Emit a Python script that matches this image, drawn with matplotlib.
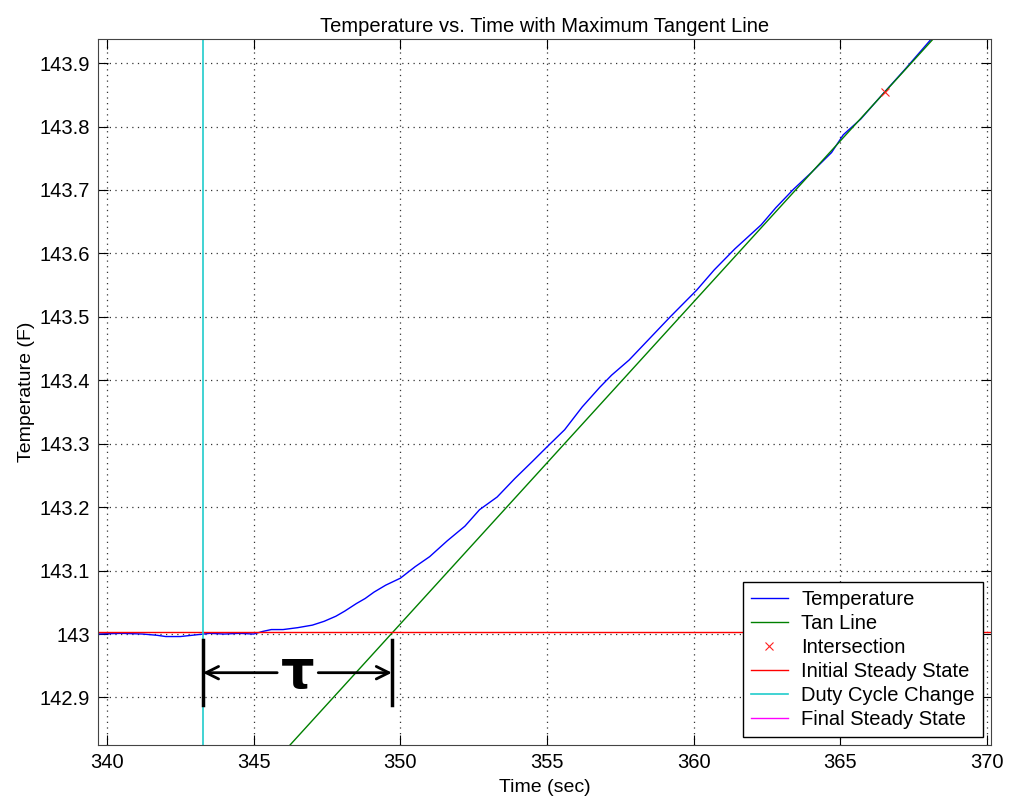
import numpy as np
import matplotlib
matplotlib.use('Agg')
import matplotlib.pyplot as plt

plt.rcParams['font.family'] = ['Liberation Sans', 'DejaVu Sans']

# ---------------------------
# Datos
# ---------------------------
tiempo = [339.7, 340.5, 341.2, 341.7, 342.0, 342.5, 342.9, 343.5, 344.0, 344.5,
          345.0, 345.3, 345.6, 346.0, 346.5, 347.0, 347.4, 347.8, 348.1, 348.5,
          348.8, 349.1, 349.5, 350.0, 350.5, 351.0, 351.6, 352.2, 352.7, 353.3,
          353.9, 354.5, 355.0, 355.6, 356.2, 356.8, 357.2, 357.8, 358.5, 359.2,
          360.1, 360.7, 361.4, 362.3, 362.8, 363.4, 364.0, 364.7, 365.1, 365.7,
          366.5, 367.2, 368.1, 368.5]
temperatura = [143.000, 143.001, 143.000, 142.998, 142.996, 142.996, 142.998, 143.001, 143.000, 143.001,
               143.000, 143.004, 143.007, 143.007, 143.010, 143.014, 143.020, 143.028, 143.036, 143.048,
               143.056, 143.066, 143.077, 143.088, 143.106, 143.122, 143.147, 143.170, 143.196, 143.216,
               143.245, 143.272, 143.295, 143.322, 143.358, 143.389, 143.408, 143.432, 143.466, 143.500,
               143.542, 143.574, 143.607, 143.645, 143.672, 143.701, 143.727, 143.759, 143.787, 143.812,
               143.854, 143.890, 143.938, 143.960]

# linea tangente (dos extremos)
tan_tiempo = [346.1, 368.4]
tan_temp = [142.818, 143.950]

# interseccion
inter_t = [366.52]
inter_T = [143.854]

estado_inicial = 143.003
cambio_ciclo = 343.27
estado_final = 144.6      # fuera del rango visible
tau_inicio = 343.27
tau_fin = 349.71

# ---------------------------
# Grafica
# ---------------------------
fig = plt.figure(figsize=(10.1, 8.01), dpi=100)
ax = fig.add_axes([0.097, 0.0699, 0.884, 0.8814])

ax.plot(tiempo, temperatura, color='#0000ff', lw=1, label='Temperature')
ax.plot(tan_tiempo, tan_temp, color='#008000', lw=1, label='Tan Line')
ax.plot(inter_t, inter_T, 'x', color='#ff2020', ms=6, mew=0.8, label='Intersection')
ax.axhline(estado_inicial, color='#ff0000', lw=1, label='Initial Steady State')
ax.axvline(cambio_ciclo, color='#20cccc', lw=1.2, label='Duty Cycle Change')
ax.axhline(estado_final, color='#ff00ff', lw=1, label='Final Steady State')

# anotacion de tau
y_flecha = 142.939
ax.plot([tau_inicio, tau_inicio], [142.888, 142.991], color='black', lw=2.5)
ax.plot([tau_fin, tau_fin], [142.888, 142.991], color='black', lw=2.5)
ax.annotate('', xy=(tau_inicio, y_flecha), xytext=(345.8, y_flecha),
            arrowprops=dict(arrowstyle='->,head_length=0.9,head_width=0.45', lw=2, color='black',
                            shrinkA=0, shrinkB=0))
ax.annotate('', xy=(tau_fin, y_flecha), xytext=(347.2, y_flecha),
            arrowprops=dict(arrowstyle='->,head_length=0.9,head_width=0.45', lw=2, color='black',
                            shrinkA=0, shrinkB=0))
ax.text(346.5, y_flecha, 'τ', fontsize=38, fontweight='bold', family='DejaVu Sans',
        ha='center', va='center')

ax.set_xlim(339.69, 370.13)
ax.set_ylim(142.825, 143.938)
ax.set_xticks([340, 345, 350, 355, 360, 365, 370])
ax.set_yticks([142.9, 143.0, 143.1, 143.2, 143.3, 143.4, 143.5, 143.6, 143.7, 143.8, 143.9])
ax.set_yticklabels(['142.9', '143', '143.1', '143.2', '143.3', '143.4', '143.5',
                    '143.6', '143.7', '143.8', '143.9'])
ax.grid(True, linestyle=(0, (1, 3.5)), color='#333333', lw=0.9)
ax.tick_params(direction='in', length=7, top=True, right=True, labelsize=14.5, pad=6)
for s in ax.spines.values():
    s.set_color('#444444')

ax.set_title('Temperature vs. Time with Maximum Tangent Line', fontsize=14.5, pad=5)
ax.set_xlabel('Time (sec)', fontsize=14, labelpad=5)
ax.set_ylabel('Temperature (F)', fontsize=14, labelpad=3)

leg = ax.legend(loc='lower right', fontsize=14.5, fancybox=False, edgecolor='black',
                framealpha=1, labelspacing=0.25, handlelength=1.85, handletextpad=0.65,
                borderpad=0.4, borderaxespad=0.4)
leg.get_frame().set_linewidth(1)

fig.savefig('out.png', dpi=100)
